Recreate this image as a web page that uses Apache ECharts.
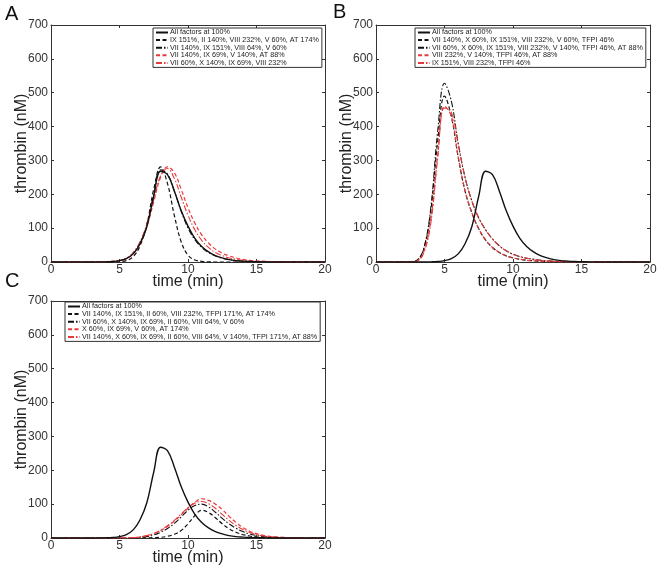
<!DOCTYPE html>
<html><head><meta charset="utf-8">
<script src="https://cdn.jsdelivr.net/npm/echarts@6/dist/echarts.min.js"></script>
<style>html,body{margin:0;padding:0;background:#fff}#c{width:661px;height:571px}</style>
</head><body><div id="c"></div>
<script>
const times = [0,0.5,1,1.5,2,2.5,3,3.5,4,4.5,5,5.5,6,6.5,7,7.5,8,8.5,9,9.5,10,10.5,11,11.5,12,12.5,13,13.5,14,14.5,15,15.5,16,16.5,17,17.5,18,18.5,19,19.5,20];
const xTicks = [0,5,10,15,20];
const yTicks = [0,100,200,300,400,500,600,700];

const refName = 'All factors at 100%';
const refVals = [0,0,0,0,0,0,0,0,0.5,1.5,4,10,24,54,105,195,268,258,210,152,106,70,46,30,19,12,7,4,2.5,1.5,1,0.5,0.3,0,0,0,0,0,0,0,0];

// Panel A
const namesA = ['IX 151%, II 140%, VIII 232%, V 60%, AT 174%','VII 140%, IX 151%, VIII 64%, V 60%','VII 140%, IX 69%, V 140%, AT 88%','VII 60%, X 140%, IX 69%, VIII 232%'];
const a1 = [0,0,0,0,0,0,0,0,0,0.3,1,4,16,48,112,215,281,232,138,60,20,6,2,0.5,0,0,0,0,0,0,0,0,0,0,0,0,0,0,0,0,0];
const a2 = [0,0,0,0,0,0,0,0,0.5,1.5,4,11,26,58,112,200,272,260,210,150,100,66,43,28,18,11,7,4,2.5,1.5,1,0.5,0.3,0,0,0,0,0,0,0,0];
const a3 = [0,0,0,0,0,0,0,0.3,1,2,4,10,25,55,105,178,250,281,264,215,160,115,80,56,38,26,18,12,8,5,3.5,2.5,1.5,1,0.7,0.5,0.3,0,0,0,0];
const a4 = [0,0,0,0,0,0,0,0.3,1,2,4,11,28,60,112,185,255,276,247,192,138,95,64,43,28,19,12,8,5,3,2,1.3,0.8,0.5,0.3,0,0,0,0,0,0];

// Panel B
const namesB = ['VII 140%, X 60%, IX 151%, VIII 232%, V 60%, TFPI 46%','VII 60%, X 60%, IX 151%, VIII 232%, V 140%, TFPI 46%, AT 88%','VIII 232%, V 140%, TFPI 46%, AT 88%','IX 151%, VIII 232%, TFPI 46%'];
const b1 = [0,0,0,0,0,0.3,5,40,150,355,490,430,310,210,145,98,65,43,28,18,12,8,5,3.5,2.3,1.5,1,0.6,0.4,0.2,0,0,0,0,0,0,0,0,0,0,0];
const b2 = [0,0,0,0,0,0.3,5,42,160,385,528,475,350,250,180,130,95,68,48,33,23,16,11,8,5,3.5,2.3,1.5,1,0.6,0.4,0.2,0,0,0,0,0,0,0,0,0];
const b3 = [0,0,0,0,0,0.3,3,32,125,315,460,430,310,210,145,98,65,43,28,18,12,8,5,3.5,2.3,1.5,1,0.6,0.4,0.2,0,0,0,0,0,0,0,0,0,0,0];
const b4 = [0,0,0,0,0,0.3,3,28,115,305,455,442,350,250,180,130,95,68,48,33,23,16,11,8,5,3.5,2.3,1.5,1,0.6,0.4,0.2,0,0,0,0,0,0,0,0,0];

// Panel C
const namesC = ['VII 140%, IX 151%, II 60%, VIII 232%, TFPI 171%, AT 174%','VII 60%, X 140%, IX 69%, II 60%, VIII 64%, V 60%','X 60%, IX 69%, V 60%, AT 174%','VII 140%, X 60%, IX 69%, II 60%, VIII 64%, V 140%, TFPI 171%, AT 88%'];
const c1 = [0,0,0,0,0,0,0,0,0,0,0,0,0,0,0.5,1,2,5,11,22,42,66,82,75,60,42,27,17,10,6,3.5,2,1.2,0.7,0.4,0.2,0,0,0,0,0];
const c2 = [0,0,0,0,0,0,0,0,0,0,0,0,0.5,2,4,9,17,28,43,62,82,96,100,92,76,58,42,29,19,12,7.5,4.5,2.7,1.7,1,0.6,0.3,0,0,0,0];
const c3 = [0,0,0,0,0,0,0,0,0,0,0,0.3,1,3,7,13,22,34,50,68,88,105,116,111,100,84,64,46,31,20,13,8,5,3,1.8,1,0.6,0.3,0,0,0];
const c4 = [0,0,0,0,0,0,0,0,0,0,0,0.3,1,3,7,13,23,36,52,71,90,103,108,101,88,70,52,37,25,16,10,6,3.5,2,1.2,0.7,0.4,0.2,0,0,0];

const BLACK = '#111', RED = '#e8393a';
const styles = [
  {color: BLACK, type: 'solid', width: 1.4},
  {color: BLACK, type: [4,2.5], width: 1.2},
  {color: BLACK, type: [6,2,1.5,2], width: 1.1},
  {color: RED, type: [4,2.5], width: 1.2},
  {color: RED, type: [6,2,1.5,2], width: 1.1}
];

const grids = [
  {left: 51, top: 25, width: 274, height: 237},
  {left: 376, top: 25, width: 274, height: 237},
  {left: 51, top: 301, width: 274, height: 237}
];
const legendPos = [{left: 153, top: 28}, {left: 415, top: 28}, {left: 65, top: 302}];
const panels = [
  {names: namesA, vals: [a1,a2,a3,a4]},
  {names: namesB, vals: [b1,b2,b3,b4]},
  {names: namesC, vals: [c1,c2,c3,c4]}
];

const AX = '#333', TXT = '#333';
const FF = 'Liberation Sans, Arial';
const xAxis = [], yAxis = [], series = [], legend = [];
grids.forEach((g, gi) => {
  xAxis.push({type:'value', gridIndex: gi, min: xTicks[0], max: xTicks[xTicks.length-1], interval: 5, position:'bottom',
    axisLine:{show:true, onZero:false, lineStyle:{color:AX, width:1}}, axisTick:{show:true, inside:true, length:3, lineStyle:{color:AX}},
    splitLine:{show:false}, axisLabel:{fontSize:12, color:TXT, margin:2, fontFamily:FF},
    name:'time (min)', nameLocation:'middle', nameGap:12, nameMoveOverlap:false,
    nameTextStyle:{fontSize:16, color:'#222', fontFamily:FF}});
  xAxis.push({type:'value', gridIndex: gi, min: 0, max: 20, interval: 5, position:'top',
    axisLine:{show:true, onZero:false, lineStyle:{color:AX, width:1}}, axisTick:{show:true, inside:true, length:3, lineStyle:{color:AX}},
    splitLine:{show:false}, axisLabel:{show:false}});
  yAxis.push({type:'value', gridIndex: gi, min: yTicks[0], max: yTicks[yTicks.length-1], interval: 100, position:'left',
    axisLine:{show:true, onZero:false, lineStyle:{color:AX, width:1}}, axisTick:{show:true, inside:true, length:3, lineStyle:{color:AX}},
    splitLine:{show:false}, axisLabel:{fontSize:12, color:TXT, margin:3, fontFamily:FF},
    name:'thrombin (nM)', nameLocation:'middle', nameGap:21, nameRotate:90, nameMoveOverlap:false,
    nameTextStyle:{fontSize:16, color:'#222', fontFamily:FF}});
  yAxis.push({type:'value', gridIndex: gi, min: 0, max: 700, interval: 100, position:'right',
    axisLine:{show:true, onZero:false, lineStyle:{color:AX, width:1}}, axisTick:{show:true, inside:true, length:3, lineStyle:{color:AX}},
    splitLine:{show:false}, axisLabel:{show:false}});
  const p = panels[gi];
  const allNames = [refName].concat(p.names);
  const allVals = [refVals].concat(p.vals);
  allNames.forEach((nm, k) => {
    series.push({type:'line', name: nm, xAxisIndex: 2*gi, yAxisIndex: 2*gi, symbol:'none', smooth:0.4,
      z: k === 0 ? 3 : 2,
      lineStyle: styles[k], itemStyle:{color: styles[k].color},
      data: times.map((t, i) => [t, allVals[k][i]])});
  });
  legend.push({orient:'vertical', left: legendPos[gi].left, top: legendPos[gi].top, data: allNames,
    itemStyle:{color:'rgba(0,0,0,0)', borderColor:'rgba(0,0,0,0)', borderWidth:0},
    itemWidth: 12, itemHeight: 8, itemGap: 0.6, padding:[1,3,1,2], borderColor:'#333', borderWidth:1, backgroundColor:'#fff',
    textStyle:{fontSize:7.2, color:'#222', fontFamily:FF, padding:[0,0,0,-3]}, selectedMode:false});
});

const chart = echarts.init(document.getElementById('c'), null, {renderer:'canvas'});
chart.setOption({
  animation:false,
  backgroundColor:'#fff',
  grid: grids,
  xAxis, yAxis, series, legend,
  graphic:[
    {type:'text', left:5, top:4, style:{text:'A', fontSize:20, fill:'#111', fontFamily:FF}},
    {type:'text', left:333, top:2, style:{text:'B', fontSize:20, fill:'#111', fontFamily:FF}},
    {type:'text', left:5, top:271, style:{text:'C', fontSize:20, fill:'#111', fontFamily:FF}}
  ]
});
</script></body></html>
